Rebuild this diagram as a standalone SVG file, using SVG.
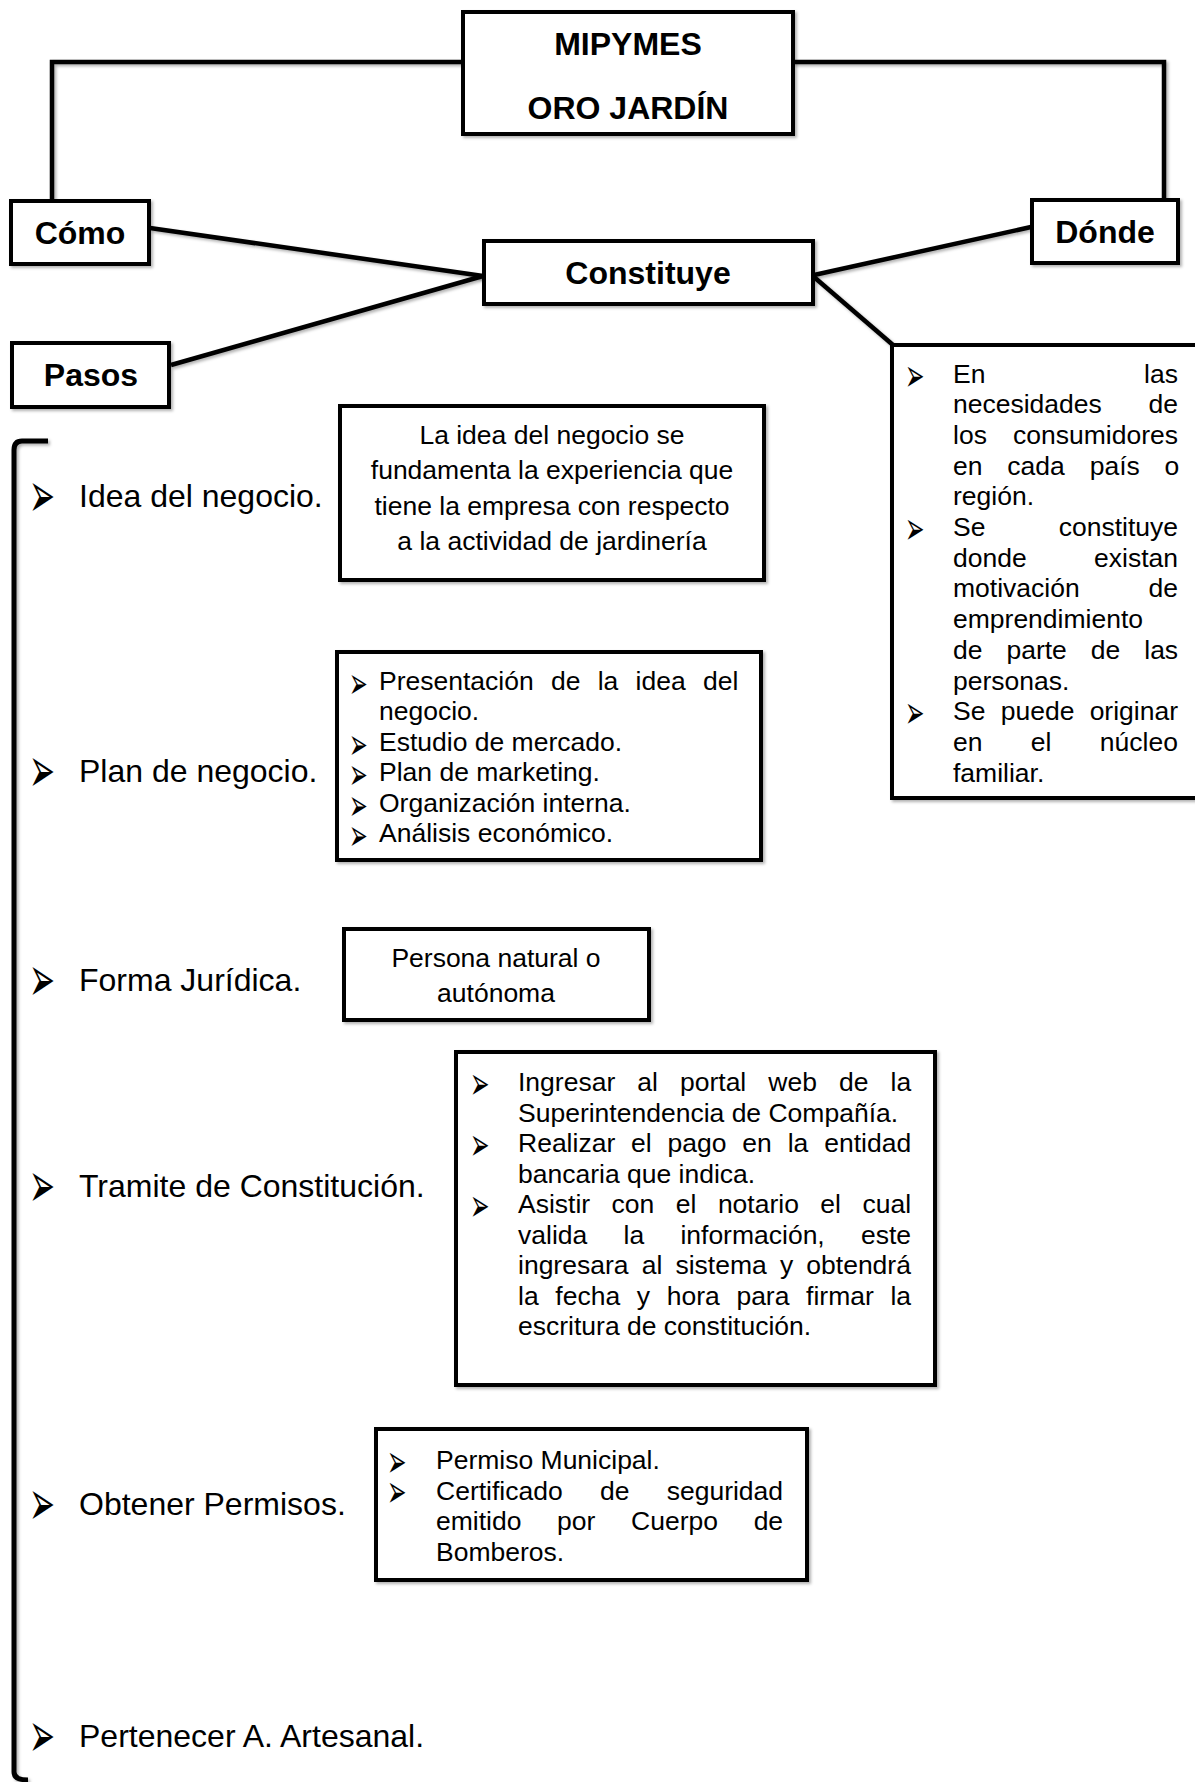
<svg xmlns="http://www.w3.org/2000/svg" width="1195" height="1782" viewBox="0 0 1195 1782">
<defs>
<filter id="sh" filterUnits="userSpaceOnUse" x="0" y="0" width="1195" height="1782"><feDropShadow dx="2" dy="2" stdDeviation="1.5" flood-color="#000" flood-opacity="0.3"/></filter>
</defs>
<style>
.box{fill:#fff;stroke:#000;stroke-width:4;filter:url(#sh)}
.ln{fill:none;stroke:#000;stroke-width:4.5;filter:url(#sh)}
.b{font-family:"Liberation Sans",Arial,sans-serif;font-weight:bold;font-size:32px;text-anchor:middle}
.lab{font-family:"Liberation Sans",Arial,sans-serif;font-size:32px}
.t{font-family:"Liberation Sans",Arial,sans-serif;font-size:26.5px}
.c{text-anchor:middle}
.e{text-anchor:end}
.bu{font-family:"DejaVu Sans",sans-serif;font-size:24px}
.bul{font-family:"DejaVu Sans",sans-serif;font-size:32px}
</style>
<rect width="1195" height="1782" fill="#fff"/>
<g id="connectors">
<path class="ln" d="M463 62 H52 V201"/>
<path class="ln" d="M793 62 H1164 V200"/>
<line class="ln" x1="150" y1="228" x2="483" y2="276"/>
<line class="ln" x1="171" y1="365" x2="483" y2="276"/>
<line class="ln" x1="814" y1="275" x2="1031" y2="227"/>
<line class="ln" x1="814" y1="277" x2="893" y2="345"/>
<path class="ln" d="M48 441 L22 441 Q14 441 14 450 L14 1772 Q14 1780 28 1780" style="stroke-width:5"/>
</g>
<g id="mipymes">
<rect class="box" x="463" y="12" width="330" height="122"/>
<text class="b" x="628" y="55">MIPYMES</text>
<text class="b" x="628" y="119">ORO JARDÍN</text>
</g>
<g id="como">
<rect class="box" x="11" y="201" width="138" height="63"/>
<text class="b" x="80" y="244">Cómo</text>
</g>
<g id="donde">
<rect class="box" x="1032" y="200" width="146" height="63"/>
<text class="b" x="1105" y="243">Dónde</text>
</g>
<g id="constituye">
<rect class="box" x="484" y="241" width="329" height="63"/>
<text class="b" x="648" y="284">Constituye</text>
</g>
<g id="pasos">
<rect class="box" x="12" y="343" width="157" height="64"/>
<text class="b" x="91" y="386">Pasos</text>
</g>
<g id="donde-detalle">
<rect class="box" x="892" y="345" width="320" height="453"/>
<text class="bu" transform="translate(905,0) scale(0.97,1.9)"><tspan x="0" y="205.53">➢</tspan><tspan x="0" y="286.32">➢</tspan><tspan x="0" y="383.26">➢</tspan></text>
<text class="t" x="953" y="382.5">En</text><text class="t e" x="1178" y="382.5">las</text>
<text class="t" x="953" y="413.2">necesidades</text><text class="t e" x="1178" y="413.2">de</text>
<text class="t" x="953" y="443.9">los</text><text class="t e" x="1178" y="443.9">consumidores</text>
<text class="t" x="953" y="474.6" style="word-spacing:17.5px">en cada país o</text>
<text class="t" x="953" y="505.3">región.</text>
<text class="t" x="953" y="536">Se</text><text class="t e" x="1178" y="536">constituye</text>
<text class="t" x="953" y="566.7">donde</text><text class="t e" x="1178" y="566.7">existan</text>
<text class="t" x="953" y="597.4">motivación</text><text class="t e" x="1178" y="597.4">de</text>
<text class="t" x="953" y="628.1">emprendimiento</text>
<text class="t" x="953" y="658.8" style="word-spacing:16.6px">de parte de las</text>
<text class="t" x="953" y="689.5">personas.</text>
<text class="t" x="953" y="720.2" style="word-spacing:7.9px">Se puede originar</text>
<text class="t" x="953" y="750.9" style="word-spacing:41px">en el núcleo</text>
<text class="t" x="953" y="781.6">familiar.</text>
</g>
<g id="paso-idea">
<text class="bul" transform="translate(29,516.5) scale(0.97,2)">➢</text>
<text class="lab" x="79" y="507">Idea del negocio.</text>
</g>
<g id="idea-detalle">
<rect class="box" x="340" y="406" width="424" height="174"/>
<text class="t c" x="552" y="444">La idea del negocio se</text>
<text class="t c" x="552" y="479.3">fundamenta la experiencia que</text>
<text class="t c" x="552" y="514.6">tiene la empresa con respecto</text>
<text class="t c" x="552" y="549.9">a la actividad de jardinería</text>
</g>
<g id="paso-plan">
<text class="bul" transform="translate(29,791.5) scale(0.97,2)">➢</text>
<text class="lab" x="79" y="782">Plan de negocio.</text>
</g>
<g id="plan-detalle">
<rect class="box" x="337" y="652" width="424" height="208"/>
<text class="bu" transform="translate(349,0) scale(0.93,1.8)"><tspan x="0" y="387.78">➢</tspan><tspan x="0" y="421.56">➢</tspan><tspan x="0" y="438.44">➢</tspan><tspan x="0" y="455.33">➢</tspan><tspan x="0" y="472.22">➢</tspan></text>
<text class="t" x="379" y="690" style="word-spacing:9.9px">Presentación de la idea del</text>
<text class="t" x="379" y="720.4">negocio.</text>
<text class="t" x="379" y="750.8">Estudio de mercado.</text>
<text class="t" x="379" y="781.2">Plan de marketing.</text>
<text class="t" x="379" y="811.6">Organización interna.</text>
<text class="t" x="379" y="842">Análisis económico.</text>
</g>
<g id="paso-forma">
<text class="bul" transform="translate(29,1000.5) scale(0.97,2)">➢</text>
<text class="lab" x="79" y="991">Forma Jurídica.</text>
</g>
<g id="forma-detalle">
<rect class="box" x="344" y="929" width="305" height="91"/>
<text class="t c" x="496" y="967">Persona natural o</text>
<text class="t c" x="496" y="1002">autónoma</text>
</g>
<g id="paso-tramite">
<text class="bul" transform="translate(29,1206.5) scale(0.97,2)">➢</text>
<text class="lab" x="79" y="1197">Tramite de Constitución.</text>
</g>
<g id="tramite-detalle">
<rect class="box" x="456" y="1052" width="479" height="333"/>
<text class="bu" transform="translate(470,0) scale(0.97,1.9)"><tspan x="0" y="578.42">➢</tspan><tspan x="0" y="610.53">➢</tspan><tspan x="0" y="642.63">➢</tspan></text>
<text class="t" x="518" y="1091" style="word-spacing:14.7px">Ingresar al portal web de la</text>
<text class="t" x="518" y="1121.5">Superintendencia de Compañía.</text>
<text class="t" x="518" y="1152" style="word-spacing:8.5px">Realizar el pago en la entidad</text>
<text class="t" x="518" y="1182.5">bancaria que indica.</text>
<text class="t" x="518" y="1213" style="word-spacing:14.1px">Asistir con el notario el cual</text>
<text class="t" x="518" y="1243.5" style="word-spacing:28.9px">valida la información, este</text>
<text class="t" x="518" y="1274" style="word-spacing:5.8px">ingresara al sistema y obtendrá</text>
<text class="t" x="518" y="1304.5" style="word-spacing:9.3px">la fecha y hora para firmar la</text>
<text class="t" x="518" y="1335">escritura de constitución.</text>
</g>
<g id="paso-permisos">
<text class="bul" transform="translate(29,1524.5) scale(0.97,2)">➢</text>
<text class="lab" x="79" y="1515">Obtener Permisos.</text>
</g>
<g id="permisos-detalle">
<rect class="box" x="376" y="1429" width="431" height="151"/>
<text class="bu" transform="translate(387,0) scale(0.97,1.9)"><tspan x="0" y="777.37">➢</tspan><tspan x="0" y="793.42">➢</tspan></text>
<text class="t" x="436" y="1469">Permiso Municipal.</text>
<text class="t" x="436" y="1499.5" style="word-spacing:29.9px">Certificado de seguridad</text>
<text class="t" x="436" y="1530" style="word-spacing:28.3px">emitido por Cuerpo de</text>
<text class="t" x="436" y="1560.5">Bomberos.</text>
</g>
<g id="paso-artesanal">
<text class="bul" transform="translate(29,1756.5) scale(0.97,2)">➢</text>
<text class="lab" x="79" y="1747">Pertenecer A. Artesanal.</text>
</g>
</svg>
